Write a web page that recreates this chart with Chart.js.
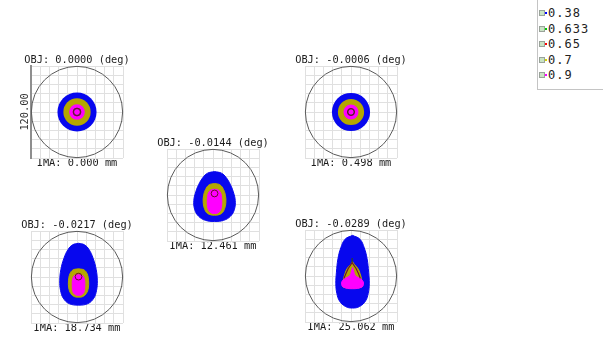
<!DOCTYPE html>
<html>
<head>
<meta charset="utf-8">
<script src="https://cdn.jsdelivr.net/npm/chart.js@4.4.1/dist/chart.umd.min.js"></script>
<style>
  html, body { margin: 0; padding: 0; background: #fff; }
  body { width: 603px; height: 340px; position: relative; overflow: hidden; }
  .panel { position: absolute; }
  #legend {
    position: absolute; left: 537px; top: -1px; width: 70px; height: 89px;
    border: 1px solid #c4c4c4; border-right: none;
    font-family: 'DejaVu Sans Mono', monospace; font-size: 12px; color: #222;
  }
  .row { position: absolute; left: 0; width: 66px; height: 14px; line-height: 14px; }
  .cb { position: absolute; left: 1px; top: 4px; width: 4px; height: 4px; border: 1px solid #9aa39a; background: #c9e3c4; }
  .dot { position: absolute; left: 7px; top: 6px; width: 2px; height: 2px; }
  .lbl { position: absolute; left: 10px; top: 0; letter-spacing: 1px; white-space: nowrap; }
</style>
</head>
<body>
<div id="legend"></div>
<div class="panel" style="left:13px;top:54px"><canvas id="f0" width="128" height="115"></canvas></div>
<div class="panel" style="left:287px;top:54px"><canvas id="f1" width="128" height="115"></canvas></div>
<div class="panel" style="left:149px;top:137px"><canvas id="f2" width="128" height="115"></canvas></div>
<div class="panel" style="left:13px;top:219px"><canvas id="f3" width="128" height="115"></canvas></div>
<div class="panel" style="left:287px;top:218px"><canvas id="f4" width="128" height="115"></canvas></div>
<script>
// Wavelengths (µm) and their key colours
const wavelengths = ['0.38', '0.633', '0.65', '0.7', '0.9'];
const waveKeyColors = ['#0000ff', '#00c800', '#ff0000', '#d4d400', '#ff00ff'];

// Field points
const objAngles = ['0.0000', '-0.0006', '-0.0144', '-0.0217', '-0.0289'];
const imaHeights = ['0.000', '0.498', '12.461', '18.734', '25.062'];

// Plot box width (µm) and its scale-bar label
const boxWidthUm = 120;
const scaleBarLabel = '120.00';

// Airy disk radius (µm) for each field
const airyRadiusUm = [59.5, 59.5, 59.5, 59.5, 59.5];

// On-axis fields: round spots, radius (µm) per wavelength
const field0Radius = [25.5, 4.5, 5.1, 17.8, 10.2];
const field1Radius = [24.9, 4.2, 4.7, 17.1, 9.8];

// Field -0.0144: spot outlines (x, y in µm)
const field2Blue = [[2,30.5],[11,28.5],[17,23],[22.5,14],[26.5,4],[29,-7],[28,-18.5],[23,-27.5],[14,-33],[2,-34.5],
  [-10,-33],[-19,-27.5],[-24,-18.5],[-25,-7],[-22.5,4],[-18.5,14],[-13,23],[-7,28.5],[2,30.5]];
const field2Olive = [[2,15],[9,13.3],[13.8,7],[16.3,-1],[16.8,-9],[15.3,-17.3],[11.2,-24],[2,-26.3],
  [-7.2,-24],[-11.3,-17.3],[-12.8,-9],[-12.3,-1],[-9.8,7],[-5,13.3],[2,15]];
const field2Magenta = [[2,7.5],[7,6.4],[10.2,2],[11.4,-6],[11.2,-14.3],[9.7,-20],[6.1,-23.5],[2,-24.1],
  [-2.1,-23.5],[-5.7,-20],[-7.2,-14.3],[-7.4,-6],[-6.2,2],[-3,6.4],[2,7.5]];
const field2Core = [{ x: 2, y: 2, r: 4.4 }];

// Field -0.0217
const field3Blue = [[2,44],[9.7,42],[15.8,35.7],[21,24.5],[25,10],[26.5,-5],[25.5,-17.3],[22,-27.5],[14.3,-34.7],[2,-36.7],
  [-10.3,-34.7],[-18,-27.5],[-21.5,-17.3],[-22.5,-5],[-21,10],[-17,24.5],[-11.8,35.7],[-5.7,42],[2,44]];
const field3Olive = [[2,10.7],[9.2,9.2],[13.3,4],[15.1,-5],[14.8,-14.3],[12.2,-21.4],[7.6,-25.5],[2,-26.3],
  [-3.6,-25.5],[-8.2,-21.4],[-10.8,-14.3],[-11.1,-5],[-9.3,4],[-5.2,9.2],[2,10.7]];
const field3Magenta = [[2,2.9],[7.1,2],[9.7,-3],[10.2,-10.2],[9.7,-17.3],[7.6,-22],[2,-24.1],
  [-3.6,-22],[-5.7,-17.3],[-6.2,-10.2],[-5.7,-3],[-3.1,2],[2,2.9]];
const field3Core = [{ x: 2, y: 0.5, r: 4.4 }];

// Field -0.0289
const field4Blue = [[2,53],[11.7,48],[17.3,36.7],[21,22.5],[23,5],[23.8,-10.2],[22.5,-22.5],[18.9,-32.7],[11.2,-39.8],[2,-41.8],
  [-7.2,-39.8],[-14.9,-32.7],[-18.5,-22.5],[-19.8,-10.2],[-19,5],[-17,22.5],[-13.3,36.7],[-7.7,48],[2,53]];
const field4Olive = [[2,18.8],[4.2,15.3],[9,9.8],[11.8,3.3],[13.6,-3.3],[14.8,-10.2],[14.3,-14.3],[2,-15.8],
  [-10.3,-14.3],[-10.8,-10.2],[-9.6,-3.3],[-7.8,3.3],[-5,9.8],[-0.2,15.3],[2,18.8]];
const field4Magenta = [[2,11.1],[3.6,6],[5.4,0.5],[8.5,-1.5],[13.8,-4.6],[16.3,-9.2],[14.3,-14.3],[2,-16.6],
  [-10.3,-14.3],[-12.3,-9.2],[-9.8,-4.6],[-4.5,-1.5],[-1.4,0.5],[0.4,6],[2,11.1]];
const field4Red = [[-9.2,-3.1],[-6.6,3.3],[-3.6,9.8],[1.5,17.3],[6.6,9.8],[9.7,3.3],[12.2,-3.1]];
const field4Green = [[1.5,17.3],[1.5,23.5]];

// Drawing colours for the spots
const spotFill = { blue: '#0707ee', olive: '#b5a700', magenta: '#ff00ff', red: '#6e0c2e', green: '#2c4a12' };

const labelFont = { family: "'DejaVu Sans Mono', monospace", size: 10.3, weight: 'normal', lineHeight: '12px' };

// legend
(function buildLegend() {
  const box = document.getElementById('legend');
  wavelengths.forEach((w, i) => {
    const row = document.createElement('div');
    row.className = 'row';
    row.style.top = (6.3 + i * 15.4) + 'px';
    row.innerHTML = '<span class="cb"></span><span class="dot" style="background:' + waveKeyColors[i] +
      '"></span><span class="lbl">' + w + '</span>';
    box.appendChild(row);
  });
})();

function umToPx(chart, um) {
  const s = chart.scales.x;
  const v = Math.abs(s.getPixelForValue(um) - s.getPixelForValue(0));
  return isFinite(v) ? v : 0;
}
const toXY = pts => pts.map(([x, y]) => ({ x, y }));
const none = 'rgba(0,0,0,0)';

function circleSet(points, fill, stroke, order) {
  return {
    type: 'scatter', data: points, order, clip: false,
    pointStyle: 'circle',
    pointRadius: ctx => umToPx(ctx.chart, ctx.raw.r),
    pointHoverRadius: ctx => umToPx(ctx.chart, ctx.raw.r),
    pointBackgroundColor: fill, pointBorderColor: stroke,
    pointBorderWidth: stroke === none ? 0 : 1
  };
}
function shapeSet(pts, color, order) {
  return {
    type: 'line', data: toXY(pts), order, clip: false,
    backgroundColor: color, borderColor: color, borderWidth: 1,
    fill: 'shape', tension: 0.4, pointRadius: 0
  };
}
function traceSet(pts, color, order) {
  return {
    type: 'line', data: toXY(pts), order, clip: false,
    borderColor: color, borderWidth: 1.1, fill: false, tension: 0, pointRadius: 0
  };
}
function airySet(field) {
  return circleSet([{ x: 0, y: 0, r: airyRadiusUm[field] }], none, '#5a5a5a', 20);
}

function roundSpotSets(radius) {
  return [
    circleSet([{ x: 0, y: 0, r: radius[0] }], spotFill.blue, none, 9),
    circleSet([{ x: 0, y: 0, r: radius[3] }], spotFill.olive, none, 8),
    circleSet([{ x: 0, y: 0, r: radius[4] }], spotFill.magenta, none, 7),
    circleSet([{ x: 0, y: 0, r: radius[1] }], none, spotFill.green, 6),
    circleSet([{ x: 0, y: 0, r: radius[2] }], none, spotFill.red, 5)
  ];
}

function makePanel(canvasId, field, datasets, withScaleBar) {
  const half = boxWidthUm / 2;
  const grid = { color: '#e0e0e0', lineWidth: 1, drawTicks: false };
  const sideWidth = 18;   // room either side of the box so the field label fits
  new Chart(document.getElementById(canvasId), {
    type: 'scatter',
    data: { datasets: [airySet(field)].concat(datasets) },
    options: {
      responsive: false, animation: false, events: [],
      layout: { padding: 0, autoPadding: false },
      plugins: {
        legend: { display: false },
        tooltip: { enabled: false },
        title: {
          display: true, text: 'OBJ: ' + objAngles[field] + ' (deg)',
          color: '#1c1c1c', font: labelFont, padding: 0
        }
      },
      scales: {
        x: {
          type: 'linear', min: -half, max: half,
          ticks: { display: false, stepSize: boxWidthUm / 10 },
          grid, border: { display: false },
          title: {
            display: true, text: 'IMA: ' + imaHeights[field] + ' mm',
            color: '#1c1c1c', font: labelFont, padding: { top: -1, bottom: 0 }
          }
        },
        y: {
          type: 'linear', position: 'left', min: -half, max: half,
          ticks: { display: false, stepSize: boxWidthUm / 10 },
          grid,
          border: withScaleBar ? { display: true, color: '#8e8e8e', width: 2 } : { display: false },
          title: withScaleBar
            ? { display: true, text: scaleBarLabel, color: '#333', font: labelFont, padding: { top: 6, bottom: 0 } }
            : { display: false },
          afterFit: s => { s.width = sideWidth; }
        },
        yRight: {
          type: 'linear', position: 'right', min: -half, max: half,
          ticks: { display: false }, grid: { display: false }, border: { display: false },
          afterFit: s => { s.width = sideWidth; }
        }
      }
    }
  });
}

makePanel('f0', 0, roundSpotSets(field0Radius), true);
makePanel('f1', 1, roundSpotSets(field1Radius), false);
makePanel('f2', 2, [
  shapeSet(field2Blue, spotFill.blue, 9),
  shapeSet(field2Olive, spotFill.olive, 8),
  shapeSet(field2Magenta, spotFill.magenta, 7),
  circleSet(field2Core, none, spotFill.red, 5)
], false);
makePanel('f3', 3, [
  shapeSet(field3Blue, spotFill.blue, 9),
  shapeSet(field3Olive, spotFill.olive, 8),
  shapeSet(field3Magenta, spotFill.magenta, 7),
  circleSet(field3Core, none, spotFill.red, 5)
], false);
makePanel('f4', 4, [
  shapeSet(field4Blue, spotFill.blue, 9),
  shapeSet(field4Olive, spotFill.olive, 8),
  shapeSet(field4Magenta, spotFill.magenta, 7),
  traceSet(field4Green, spotFill.green, 6),
  traceSet(field4Red, spotFill.red, 5)
], false);
</script>
</body>
</html>
